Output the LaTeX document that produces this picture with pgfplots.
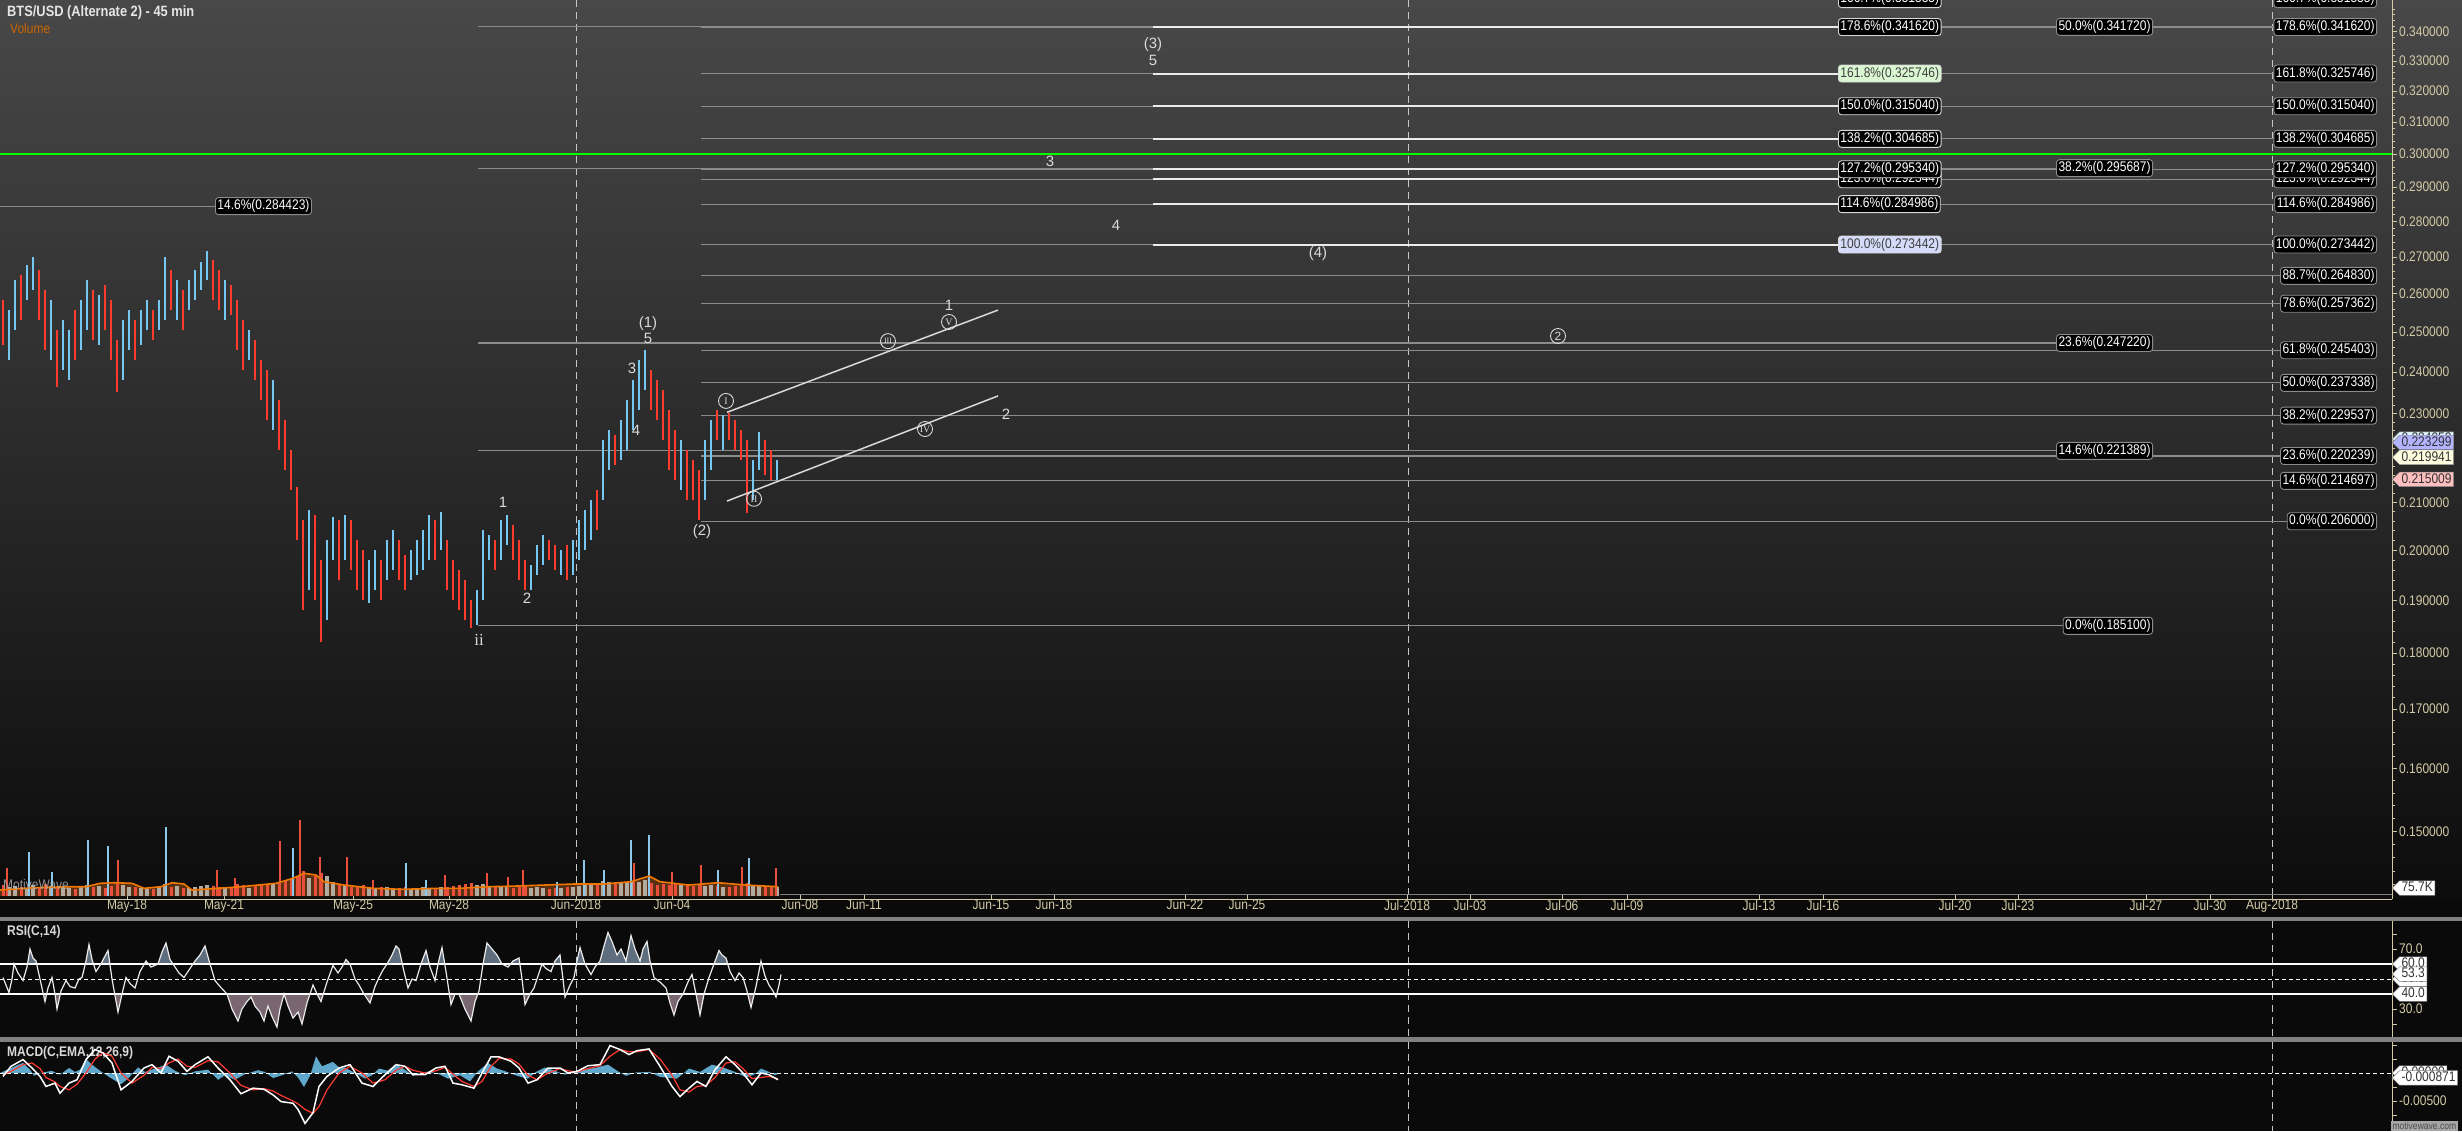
\documentclass[border=0pt]{standalone}
\usepackage{fontspec}
\setmainfont{Liberation Sans}[FakeStretch=0.86]
\newfontfamily\wavefont{Liberation Sans}
\newfontfamily\romanfont{Liberation Serif}
\usepackage{pgfplots}
\usepackage{pgfplotstable}
\pgfplotsset{compat=1.18}
\usetikzlibrary{shapes.symbols}

\newcommand\ff[1]{\fontsize{#1}{#1}\selectfont}

\definecolor{khaki}{HTML}{D2CAA6}
\definecolor{candred}{HTML}{FF3B30}
\definecolor{candblue}{HTML}{74C8F2}
\definecolor{fibgrey}{HTML}{8C8C8C}
\definecolor{bgtop}{HTML}{484848}
\definecolor{bgbot}{HTML}{0C0C0C}
\definecolor{panel}{HTML}{0A0A0A}
\definecolor{sep}{HTML}{808080}
\definecolor{wavetxt}{HTML}{DADADA}
\definecolor{rsiup}{HTML}{5E6E7E}
\definecolor{rsidn}{HTML}{7A6670}
\definecolor{hist}{HTML}{5FA8CC}
\definecolor{volred}{HTML}{E8503C}
\definecolor{volgrey}{HTML}{B2ABA2}
\definecolor{volblue}{HTML}{8CC8EC}
\definecolor{volbrown}{HTML}{5A3010}
\definecolor{maorange}{HTML}{F07800}
\definecolor{greenlbl}{HTML}{DAF7D2}
\definecolor{bluelbl}{HTML}{D4DCFA}

% 45 min bars (one every 6 px), low / high
\pgfplotstableread{
x lo hi
3 .2468 .2584
21 .2531 .2651
39 .2531 .2664
45 .2455 .2610
57 .2364 .2506
75 .2430 .2557
93 .2480 .2610
105 .2506 .2624
111 .2430 .2584
117 .2351 .2480
135 .2430 .2531
153 .2480 .2557
171 .2557 .2664
183 .2506 .2610
213 .2584 .2692
219 .2557 .2664
231 .2544 .2624
237 .2455 .2584
243 .2405 .2531
255 .2381 .2480
261 .2332 .2430
267 .2285 .2405
279 .2216 .2332
285 .2171 .2285
291 .2127 .2216
297 .2021 .2134
303 .1881 .2063
315 .1900 .2074
321 .1820 .1980
339 .1940 .2063
351 .1960 .2063
357 .1920 .2021
363 .1900 .2000
381 .1900 .1980
399 .1940 .2021
405 .1920 .1990
435 .1980 .2063
447 .1920 .2021
453 .1900 .1980
459 .1881 .1960
465 .1862 .1940
471 .1847 .1900
495 .1960 .2021
513 .1980 .2053
519 .1940 .2021
525 .1920 .1980
549 .1980 .2021
555 .1960 .2010
567 .1940 .2010
597 .2042 .2127
615 .2182 .2251
651 .2309 .2405
657 .2285 .2381
663 .2239 .2356
669 .2171 .2309
675 .2149 .2262
687 .2105 .2216
693 .2105 .2193
699 .2063 .2171
717 .2239 .2309
729 .2239 .2302
735 .2216 .2285
741 .2193 .2262
747 .2078 .2239
765 .2160 .2239
771 .2149 .2216
}\redbars

\pgfplotstableread{
x lo hi
9 .2430 .2557
15 .2506 .2637
27 .2584 .2678
33 .2610 .2700
51 .2430 .2584
63 .2405 .2531
69 .2381 .2506
81 .2455 .2584
87 .2506 .2637
99 .2468 .2597
123 .2381 .2531
129 .2455 .2557
141 .2468 .2557
147 .2506 .2584
159 .2506 .2584
165 .2531 .2700
177 .2531 .2637
189 .2557 .2637
195 .2584 .2664
201 .2610 .2686
207 .2637 .2716
225 .2531 .2637
249 .2430 .2506
273 .2262 .2381
309 .1920 .2084
327 .1862 .2021
333 .1980 .2069
345 .1980 .2074
369 .1894 .1980
375 .1920 .2000
387 .1940 .2021
393 .1960 .2042
411 .1940 .2000
417 .1950 .2021
423 .1960 .2042
429 .1980 .2074
441 .2000 .2080
477 .1853 .1920
483 .1900 .2042
489 .1980 .2032
501 .1980 .2063
507 .2010 .2074
531 .1920 .1970
537 .1950 .2010
543 .1970 .2032
561 .1950 .2000
573 .1950 .2021
579 .1980 .2063
585 .2000 .2084
591 .2021 .2105
603 .2105 .2239
609 .2171 .2262
621 .2193 .2285
627 .2216 .2332
633 .2262 .2381
639 .2309 .2430
645 .2356 .2455
681 .2127 .2239
705 .2105 .2239
711 .2171 .2285
723 .2216 .2297
753 .2105 .2193
759 .2171 .2258
777 .2149 .2193
}\bluebars

% volume (K)
\pgfplotstableread{
x v
3 110
21 90
39 80
45 120
57 100
75 70
93 90
105 80
111 100
117 130
135 90
153 70
171 90
183 80
213 100
219 90
231 80
237 120
243 110
255 100
261 120
267 110
279 130
285 150
291 170
297 200
303 250
315 200
321 230
339 120
351 90
357 100
363 110
381 90
399 80
405 90
435 80
447 90
453 100
459 110
465 120
471 130
495 90
513 80
519 90
525 100
549 70
555 80
567 90
597 110
615 120
651 130
657 110
663 120
669 110
675 130
687 110
693 100
699 120
717 100
729 90
735 100
741 110
747 130
765 100
771 90
}\volred

\pgfplotstableread{
x v
9 90
15 100
27 80
33 110
51 100
63 90
69 80
81 90
87 110
99 100
123 110
129 90
141 80
147 70
159 90
165 120
177 100
189 80
195 90
201 100
207 110
225 90
249 80
273 120
309 180
327 200
333 140
345 100
369 90
375 80
387 90
393 80
411 70
417 80
423 90
429 80
441 90
477 110
483 120
489 90
501 100
507 90
531 80
537 90
543 80
561 80
573 90
579 100
585 110
591 120
603 150
609 140
621 130
627 140
633 150
639 140
645 160
681 110
705 100
711 110
723 90
753 110
759 100
777 90
}\volgreyt

\pgfplotstableread{
x v
7 280
118 360
217 260
235 180
280 550
300 760
320 390
347 390
373 160
445 210
487 230
508 190
523 260
634 330
672 240
701 310
742 290
776 280
}\volspkred

\pgfplotstableread{
x v
29 440
52 240
88 560
108 500
166 690
293 480
406 330
426 160
557 140
584 360
604 260
631 560
649 610
718 260
749 380
}\volspkblue

\pgfplotstableread{
x v
0 60
34 83
69 93
86 93
100 127
115 133
132 127
144 77
161 93
172 133
184 120
192 60
218 77
241 93
276 127
293 177
304 227
316 210
324 143
344 110
373 77
402 67
436 77
459 77
488 93
517 100
545 110
574 120
603 120
631 143
649 200
660 143
689 110
718 133
746 110
778 93
}\madata

\pgfplotstableread{
x v
3 51
6 46
9 41
12 50
14 60
18 54
23 49
27 58
30 70
33 64
36 62
40 50
45 35
48 44
52 51
55 40
57 30
61 42
66 49
70 45
75 44
79 50
82 51
86 62
89 73
92 63
96 55
101 60
104 64
108 69
112 50
118 28
122 40
126 51
130 47
135 44
140 55
146 62
151 58
158 60
162 68
166 74
170 63
175 58
179 54
184 51
190 57
195 62
200 66
205 72
210 60
215 49
220 45
227 40
232 30
238 22
242 30
247 35
251 38
255 32
260 28
264 22
268 32
272 25
277 18
280 30
284 40
288 32
293 24
298 28
302 20
307 34
313 46
317 40
321 35
327 48
333 59
338 54
342 58
346 63
350 60
355 50
359 46
364 40
370 34
375 45
379 51
383 56
387 60
392 66
396 72
399 70
404 55
408 44
412 50
416 49
421 60
426 69
430 58
435 49
438 60
442 71
446 55
451 33
455 40
459 40
465 30
471 22
475 35
479 42
483 60
487 74
492 70
497 66
502 60
508 58
513 62
519 64
522 50
525 33
530 40
534 44
538 52
542 60
546 57
551 55
555 62
560 66
563 50
565 38
570 46
574 51
577 62
580 71
585 60
591 53
595 58
600 62
604 72
608 81
612 75
617 66
621 70
626 62
631 79
635 70
640 62
643 70
647 75
650 62
654 51
660 48
666 44
670 34
674 26
678 35
683 40
688 48
692 53
696 40
700 26
704 40
709 51
714 60
719 69
722 66
726 64
730 55
735 49
739 54
743 51
747 42
751 31
756 45
761 62
765 52
769 46
773 42
776 38
779 46
781 53
}\rsidata

\pgfplotstableread{
x m
3 -0.0006
11 0.0012
23 0.0024
32 0.0009
40 -0.0006
46 -0.0024
55 -0.0018
60 -0.0036
69 -0.0018
77 -0.0012
86 0.0024
95 0.0042
103 0.0036
112 0.0018
121 -0.0030
132 -0.0015
144 0.0009
152 0.0015
161 0.0000
169 0.0030
178 0.0021
187 0.0003
195 0.0015
208 0.0029
218 0.0009
230 -0.0012
241 -0.0037
253 -0.0027
264 -0.0029
273 -0.0039
281 -0.0051
293 -0.0054
298 -0.0065
305 -0.0090
313 -0.0071
319 -0.0024
327 -0.0006
339 0.0009
350 0.0015
362 -0.0018
373 -0.0024
385 -0.0003
396 0.0015
405 0.0012
413 -0.0003
425 -0.0003
436 0.0009
445 0.0012
453 -0.0018
462 -0.0021
474 -0.0027
482 0.0000
491 0.0029
499 0.0029
511 0.0021
519 0.0009
528 -0.0018
537 -0.0012
548 0.0009
560 0.0009
568 0.0000
577 0.0003
588 0.0013
600 0.0015
610 0.0049
620 0.0042
629 0.0033
637 0.0040
649 0.0043
660 0.0012
672 -0.0024
680 -0.0042
689 -0.0027
697 -0.0015
706 -0.0024
715 0.0006
726 0.0029
735 0.0015
743 0.0000
752 -0.0021
761 0.0000
769 -0.0003
778 -0.0012
}\macdline

\pgfplotstableread{
x s
3 -0.0003
11 0.0003
23 0.0015
32 0.0018
40 0.0008
46 -0.0008
55 -0.0016
60 -0.0024
69 -0.0030
77 -0.0020
86 0.0000
95 0.0025
103 0.0036
112 0.0030
121 0.0000
132 -0.0018
144 -0.0004
152 0.0010
161 0.0008
169 0.0018
178 0.0025
187 0.0012
195 0.0010
208 0.0022
218 0.0020
230 0.0000
241 -0.0022
253 -0.0030
264 -0.0028
273 -0.0032
281 -0.0040
293 -0.0050
298 -0.0055
305 -0.0065
313 -0.0072
319 -0.0060
327 -0.0030
339 0.0000
350 0.0012
362 0.0000
373 -0.0018
385 -0.0012
396 0.0005
405 0.0012
413 0.0005
425 0.0000
436 0.0004
445 0.0010
453 -0.0002
462 -0.0015
474 -0.0024
482 -0.0015
491 0.0012
499 0.0026
511 0.0025
519 0.0016
528 -0.0004
537 -0.0012
548 0.0000
560 0.0008
568 0.0004
577 0.0002
588 0.0008
600 0.0013
610 0.0030
620 0.0042
629 0.0038
637 0.0038
649 0.0042
660 0.0025
672 -0.0004
680 -0.0030
689 -0.0034
697 -0.0024
706 -0.0022
715 -0.0008
726 0.0018
735 0.0020
743 0.0008
752 -0.0010
761 -0.0008
769 -0.0006
778 -0.0010
}\sigline

\pgfplotstableread{
x h
0 0
10 0.0008
17 0.0014
23 0.0018
30 0.0006
34 -0.0005
40 0.0
52 0.0004
60 -0.0003
69 0.0009
75 0.0002
80 0.0006
86 0.0025
92 0.0015
100 0.0004
110 -0.0008
121 -0.0020
128 -0.0010
138 0.0010
145 0.0002
155 0.0008
166 0.0015
175 0.0004
185 -0.0004
195 0.0003
208 0.0006
218 -0.0012
225 -0.0004
235 -0.0012
245 -0.0002
258 0.0005
265 0.0002
273 -0.0009
282 -0.0004
292 0.0003
298 -0.0008
304 -0.0025
310 -0.0005
316 0.0030
322 0.0012
333 0.0020
340 0.0008
345 0.0010
355 0.0
365 -0.0010
372 -0.0004
379 0.0008
388 0.0004
396 0.0015
405 0.0006
413 -0.0005
420 0.0
430 0.0003
440 -0.0003
448 -0.0010
460 -0.0004
470 -0.0015
478 0.0003
488 0.0018
497 0.0008
507 0.0002
517 -0.0005
528 -0.0010
536 0.0002
545 0.0010
555 0.0004
565 -0.0003
575 0.0003
585 0.0006
597 0.0010
608 0.0015
618 0.0003
626 -0.0005
636 0.0001
650 0.0002
660 -0.0007
677 -0.0010
689 0.0008
700 0.0002
712 0.0015
723 0.0010
735 0.0002
746 -0.0008
755 -0.0002
761 0.0008
768 0.0003
775 -0.0004
780 0
}\histdata

\begin{document}
\begin{tikzpicture}[x=1bp,y=1bp,
  fibbox/.style={fill=black, draw=fibgrey, rounded corners=3bp, line width=0.9bp, text=white, font=\ff{14}, inner xsep=2bp, inner ysep=2bp, text height=10bp, text depth=3bp},
  fibboxw/.style={fibbox, draw=white!85!black},
  wave/.style={text=wavetxt, font=\wavefont\ff{15}, inner sep=0pt},
  circ/.style={circle, draw=wavetxt, line width=0.9bp, inner sep=0pt, minimum size=15bp, text=wavetxt, font=\romanfont\ff{10}},
  tag/.style={signal, signal to=west, fill=white, draw=gray, text=black!80, font=\ff{14}, inner xsep=2bp, inner ysep=1bp, text height=10bp, text depth=2.5bp, anchor=west},
  dashv/.style={draw=white!78!black, line width=1bp, dash pattern=on 7bp off 5bp},
  chan/.style={white!85!black, line width=1.5bp},
]
% panels
\shade[top color=bgtop, bottom color=bgbot] (0,0) rectangle (2462,-899);
\fill[panel] (0,-899) rectangle (2462,-1131);
\fill[sep] (0,-917) rectangle (2462,-921);
\fill[sep] (0,-1037) rectangle (2462,-1042);
\foreach \xx in {576,1408,2272}{
  \draw[dashv] (\xx,0) -- (\xx,-899);
  \draw[dashv] (\xx,-921) -- (\xx,-1037);
  \draw[dashv] (\xx,-1042) -- (\xx,-1131);
}
\node[anchor=west, font=\bfseries\ff{15}, text=white!90!black, inner sep=0pt] at (7,-13) {BTS/USD (Alternate 2) - 45 min};
\node[anchor=west, font=\ff{14}, text=maorange!85!black, inner sep=0pt] at (10,-29) {Volume};
\node[anchor=west, font=\bfseries\ff{14}, text=white!85!black, inner sep=0pt] at (7,-932) {RSI(C,14)};
\node[anchor=west, font=\bfseries\ff{14}, text=white!85!black, inner sep=0pt] at (7,-1053) {MACD(C,EMA,12,26,9)};

% ---------------- price ----------------
\begin{axis}[
  at={(0,0)}, anchor=north west, scale only axis,
  width=2392bp, height=899bp,
  xmin=0, xmax=2392, ymode=log, ymin=0.13995, ymax=0.35121,
  axis x line*=bottom, axis y line*=right,
  axis line style={draw=khaki, line width=1bp},
  xtick={127,224,353,449,576,672,800,864,991,1054,1185,1247,1407,1470,1562,1627,1759,1823,1955,2018,2146,2210,2272},
  xticklabels={May-18,May-21,May-25,May-28,Jun-2018,Jun-04,Jun-08,Jun-11,Jun-15,Jun-18,Jun-22,Jun-25,Jul-2018,Jul-03,Jul-06,Jul-09,Jul-13,Jul-16,Jul-20,Jul-23,Jul-27,Jul-30,Aug-2018},
  xtick align=inside,
  ytick={0.15,0.16,0.17,0.18,0.19,0.20,0.21,0.22,0.23,0.24,0.25,0.26,0.27,0.28,0.29,0.30,0.31,0.32,0.33,0.34},
  yticklabels={0.150000,0.160000,0.170000,0.180000,0.190000,0.200000,0.210000,0.220000,0.230000,0.240000,0.250000,0.260000,0.270000,0.280000,0.290000,0.300000,0.310000,0.320000,0.330000,0.340000},
  minor ytick={0.142,0.144,0.146,0.148,0.152,0.154,0.156,0.158,0.162,0.164,0.166,0.168,0.172,0.174,0.176,0.178,0.182,0.184,0.186,0.188,0.192,0.194,0.196,0.198,0.202,0.204,0.206,0.208,0.212,0.214,0.216,0.218,0.222,0.224,0.226,0.228,0.232,0.234,0.236,0.238,0.242,0.244,0.246,0.248,0.252,0.254,0.256,0.258,0.262,0.264,0.266,0.268,0.272,0.274,0.276,0.278,0.282,0.284,0.286,0.288,0.292,0.294,0.296,0.298,0.302,0.304,0.306,0.308,0.312,0.314,0.316,0.318,0.322,0.324,0.326,0.328,0.332,0.334,0.336,0.338,0.342,0.344,0.346,0.348},
  ytick align=outside, yticklabel pos=right,
  major tick length=5bp, minor tick length=3bp,
  tick style={draw=khaki, line width=0.8bp},
  ticklabel style={font=\ff{14}, text=khaki},
  xticklabel style={inner sep=1bp},
  yticklabel style={inner sep=2bp},
]
% fib lines (grey)
\pgfplotsinvokeforeach{0.341720,0.295687,0.247220,0.221389,0.185100}{
  \addplot[fibgrey, line width=1.2bp] coordinates {(478,#1) (2150,#1)};
}
\pgfplotsinvokeforeach{0.351535,0.341620,0.325746,0.315040,0.304685,0.295340,0.292344,0.284986,0.273442,0.264830,0.257362,0.245403,0.237338,0.229537,0.220239,0.214697,0.206000}{
  \addplot[fibgrey, line width=1.2bp] coordinates {(701,#1) (2375,#1)};
}
\addplot[fibgrey, line width=1.2bp] coordinates {(0,0.284423) (216,0.284423)};
\pgfplotsinvokeforeach{0.351535,0.341620,0.325746,0.315040,0.304685,0.295340,0.292344,0.284986,0.273442}{
  \addplot[white!92!black, line width=2bp] coordinates {(1153,#1) (1840,#1)};
}
\addplot[green, line width=1.6bp] coordinates {(0,0.3) (2392,0.3)};

% bars
\addplot[draw=none, mark=none, error bars/.cd, y dir=plus, y explicit, error mark=none,
  error bar style={draw=candred, line width=1.8bp}]
  table[x=x, y=lo, y error plus expr=\thisrow{hi}-\thisrow{lo}] {\redbars};
\addplot[draw=none, mark=none, error bars/.cd, y dir=plus, y explicit, error mark=none,
  error bar style={draw=candblue, line width=1.8bp}]
  table[x=x, y=lo, y error plus expr=\thisrow{hi}-\thisrow{lo}] {\bluebars};

% channel
\addplot[chan] coordinates {(727,0.2303) (998,0.2557)};
\addplot[chan] coordinates {(727,0.2103) (998,0.2342)};

% wave labels
\node[wave] at (axis cs:648,0.2523) {(1)};
\node[wave] at (axis cs:648,0.2485) {5};
\node[wave] at (axis cs:632,0.2408) {3};
\node[wave] at (axis cs:636,0.2262) {4};
\node[wave] at (axis cs:503,0.2101) {1};
\node[wave] at (axis cs:527,0.1904) {2};
\node[wave, font=\romanfont\ff{17}] at (axis cs:479,0.1824) {ii};
\node[wave] at (axis cs:702,0.2038) {(2)};
\node[circ] at (axis cs:726,0.2330) {I};
\node[circ] at (axis cs:754,0.2108) {II};
\node[circ, font=\romanfont\ff{8}] at (axis cs:888,0.2477) {III};
\node[circ] at (axis cs:925,0.2264) {IV};
\node[circ] at (axis cs:949,0.2526) {V};
\node[wave] at (axis cs:949,0.2570) {1};
\node[wave] at (axis cs:1006,0.2299) {2};
\node[wave] at (axis cs:1050,0.2979) {3};
\node[wave] at (axis cs:1116,0.2790) {4};
\node[wave] at (axis cs:1153,0.3354) {(3)};
\node[wave] at (axis cs:1153,0.3303) {5};
\node[wave] at (axis cs:1318,0.2708) {(4)};
\node[circ, font=\wavefont\ff{12}] at (axis cs:1558,0.2490) {2};

% fib labels
\node[fibbox, anchor=west] at (axis cs:215,0.284423) {14.6\%(0.284423)};
\node[fibbox, anchor=east] at (axis cs:2153,0.341720) {50.0\%(0.341720)};
\node[fibbox, anchor=east] at (axis cs:2153,0.295687) {38.2\%(0.295687)};
\node[fibbox, anchor=east] at (axis cs:2153,0.247220) {23.6\%(0.247220)};
\node[fibbox, anchor=east] at (axis cs:2153,0.221389) {14.6\%(0.221389)};
\node[fibbox, anchor=east] at (axis cs:2153,0.185100) {0.0\%(0.185100)};

\node[fibbox, anchor=east] at (axis cs:2377,0.351535) {166.7\%(0.351535)};
\node[fibbox, anchor=east] at (axis cs:2377,0.341620) {178.6\%(0.341620)};
\node[fibbox, anchor=east] at (axis cs:2377,0.325746) {161.8\%(0.325746)};
\node[fibbox, anchor=east] at (axis cs:2377,0.315040) {150.0\%(0.315040)};
\node[fibbox, anchor=east] at (axis cs:2377,0.304685) {138.2\%(0.304685)};
\node[fibbox, anchor=east] at (axis cs:2377,0.292344) {123.6\%(0.292344)};
\node[fibbox, anchor=east] at (axis cs:2377,0.295340) {127.2\%(0.295340)};
\node[fibbox, anchor=east] at (axis cs:2377,0.284986) {114.6\%(0.284986)};
\node[fibbox, anchor=east] at (axis cs:2377,0.273442) {100.0\%(0.273442)};
\node[fibbox, anchor=east] at (axis cs:2377,0.264830) {88.7\%(0.264830)};
\node[fibbox, anchor=east] at (axis cs:2377,0.257362) {78.6\%(0.257362)};
\node[fibbox, anchor=east] at (axis cs:2377,0.245403) {61.8\%(0.245403)};
\node[fibbox, anchor=east] at (axis cs:2377,0.237338) {50.0\%(0.237338)};
\node[fibbox, anchor=east] at (axis cs:2377,0.229537) {38.2\%(0.229537)};
\node[fibbox, anchor=east] at (axis cs:2377,0.220239) {23.6\%(0.220239)};
\node[fibbox, anchor=east] at (axis cs:2377,0.214697) {14.6\%(0.214697)};
\node[fibbox, anchor=east] at (axis cs:2377,0.206000) {0.0\%(0.206000)};

\node[fibboxw, anchor=west] at (axis cs:1838,0.351535) {166.7\%(0.351535)};
\node[fibboxw, anchor=west] at (axis cs:1838,0.341620) {178.6\%(0.341620)};
\node[fibboxw, anchor=west, fill=greenlbl, text=black!75] at (axis cs:1838,0.325746) {161.8\%(0.325746)};
\node[fibboxw, anchor=west] at (axis cs:1838,0.315040) {150.0\%(0.315040)};
\node[fibboxw, anchor=west] at (axis cs:1838,0.304685) {138.2\%(0.304685)};
\node[fibboxw, anchor=west] at (axis cs:1838,0.292344) {123.6\%(0.292344)};
\node[fibboxw, anchor=west] at (axis cs:1838,0.295340) {127.2\%(0.295340)};
\node[fibboxw, anchor=west] at (axis cs:1838,0.284986) {114.6\%(0.284986)};
\node[fibboxw, anchor=west, fill=bluelbl, text=black!75] at (axis cs:1838,0.273442) {100.0\%(0.273442)};

\coordinate (pA) at (axis cs:2392,0.224050);
\coordinate (pB) at (axis cs:2392,0.223299);
\coordinate (pC) at (axis cs:2392,0.219941);
\coordinate (pD) at (axis cs:2392,0.215009);
\end{axis}

% ---------------- volume ----------------
\begin{scope}[yshift=-820bp]
\begin{axis}[
  at={(0,0)}, anchor=north west, scale only axis,
  width=2392bp, height=76bp, xmin=0, xmax=2392, ymin=0, ymax=760,
  hide axis,
]
\addplot[fill=volbrown, draw=none] table[x=x, y=v] {\madata} \closedcycle;
\addplot[ycomb, draw=volgrey, line width=3.5bp, mark=none] table[x=x, y=v] {\volgreyt};
\addplot[ycomb, draw=volred, line width=3bp, mark=none] table[x=x, y=v] {\volred};
\addplot[ycomb, draw=volred, line width=1.6bp, mark=none] table[x=x, y=v] {\volspkred};
\addplot[ycomb, draw=volblue, line width=1.6bp, mark=none] table[x=x, y=v] {\volspkblue};
\addplot[maorange, line width=1.6bp] table[x=x, y=v] {\madata};
\addplot[gray, line width=1bp] coordinates {(780,20) (2392,20)};
\coordinate (vK) at (axis cs:2392,80);
\end{axis}
\end{scope}
\node[anchor=west, font=\ff{14}, text=white!70!black, opacity=0.8, inner sep=0pt] at (3,-885) {MotiveWave};

% ---------------- RSI ----------------
\begin{scope}[yshift=-921bp]
\begin{axis}[
  at={(0,0)}, anchor=north west, scale only axis,
  width=2392bp, height=43bp, xmin=0, xmax=2392, ymin=60, ymax=88.667, hide axis,
]
\addplot[fill=rsiup, draw=none] table[x=x, y=v] {\rsidata} -- (axis cs:781,0) -- (axis cs:3,0) -- cycle;
\end{axis}
\end{scope}
\begin{scope}[yshift=-993bp]
\begin{axis}[
  at={(0,0)}, anchor=north west, scale only axis,
  width=2392bp, height=43bp, xmin=0, xmax=2392, ymin=11.333, ymax=40, hide axis,
]
\addplot[fill=rsidn, draw=none] table[x=x, y=v] {\rsidata} -- (axis cs:781,100) -- (axis cs:3,100) -- cycle;
\end{axis}
\end{scope}
\begin{scope}[yshift=-921bp]
\begin{axis}[
  at={(0,0)}, anchor=north west, scale only axis,
  width=2392bp, height=116bp, xmin=0, xmax=2392, ymin=11.333, ymax=88.667,
  axis x line=none, axis y line*=right,
  axis line style={draw=khaki, line width=1bp},
  xtick=\empty,
  ytick={30,70}, yticklabels={30.0,70.0},
  minor ytick={20,40,50,60,80},
  ytick align=outside, yticklabel pos=right,
  major tick length=5bp, minor tick length=5bp,
  tick style={draw=khaki, line width=0.8bp},
  ticklabel style={font=\ff{14}, text=khaki},
  yticklabel style={inner sep=2bp},
]
\addplot[white, line width=1.5bp] coordinates {(0,60) (2392,60)};
\addplot[white, line width=1.5bp] coordinates {(0,40) (2392,40)};
\addplot[white, line width=1bp, dash pattern=on 4bp off 3bp] coordinates {(0,50) (2392,50)};
\addplot[white!92!black, line width=1.2bp] table[x=x, y=v] {\rsidata};
\coordinate (r60) at (axis cs:2392,60);
\coordinate (r50) at (axis cs:2392,50);
\coordinate (r53) at (axis cs:2392,53.3);
\coordinate (r40) at (axis cs:2392,40);
\end{axis}
\end{scope}

% ---------------- MACD ----------------
\begin{scope}[yshift=-1042bp]
\begin{axis}[
  at={(0,0)}, anchor=north west, scale only axis,
  width=2392bp, height=89bp, xmin=0, xmax=2392, ymin=-0.01036, ymax=0.00554,
  axis x line=none, axis y line*=right,
  axis line style={draw=khaki, line width=1bp},
  xtick=\empty, scaled y ticks=false,
  ytick={-0.005,0}, yticklabels={-0.00500,0.00000},
  minor ytick={-0.0075,-0.0025,0.0025,0.005},
  ytick align=outside, yticklabel pos=right,
  major tick length=5bp, minor tick length=5bp,
  tick style={draw=khaki, line width=0.8bp},
  ticklabel style={font=\ff{14}, text=khaki},
  yticklabel style={inner sep=2bp},
]
\addplot[fill=hist, draw=none] table[x=x, y=h] {\histdata} -- cycle;
\addplot[white, line width=1bp, dash pattern=on 4bp off 3bp] coordinates {(0,0) (2392,0)};
\addplot[candred, line width=1.2bp] table[x=x, y=s] {\sigline};
\addplot[white, line width=1.5bp] table[x=x, y=m] {\macdline};
\coordinate (m0) at (axis cs:2392,0);
\coordinate (m1) at (axis cs:2392,-0.000871);
\end{axis}
\end{scope}

% value tags
\node[tag, fill=cyan!12] at (pA) {0.224050};
\node[tag, fill=blue!30!white] at (pB) {0.223299};
\node[tag, fill=yellow!12] at (pC) {0.219941};
\node[tag, fill=red!25!white] at (pD) {0.215009};
\node[tag] at (vK) {75.7K};
\node[tag] at (r60) {60.0};
\node[tag] at (r50) {50.0};
\node[tag] at (r53) {53.3};
\node[tag] at (r40) {40.0};
\node[tag] at (m0) {0.00000};
\node[tag] at (m1) {-0.000871};
\node[anchor=south east, fill=gray!70, text=black!70, font=\ff{10}, inner sep=1.5bp] at (2458,-1131) {motivewave.com};

\pgfresetboundingbox
\useasboundingbox (0,0) rectangle (2462,-1131);
\end{tikzpicture}
\end{document}
